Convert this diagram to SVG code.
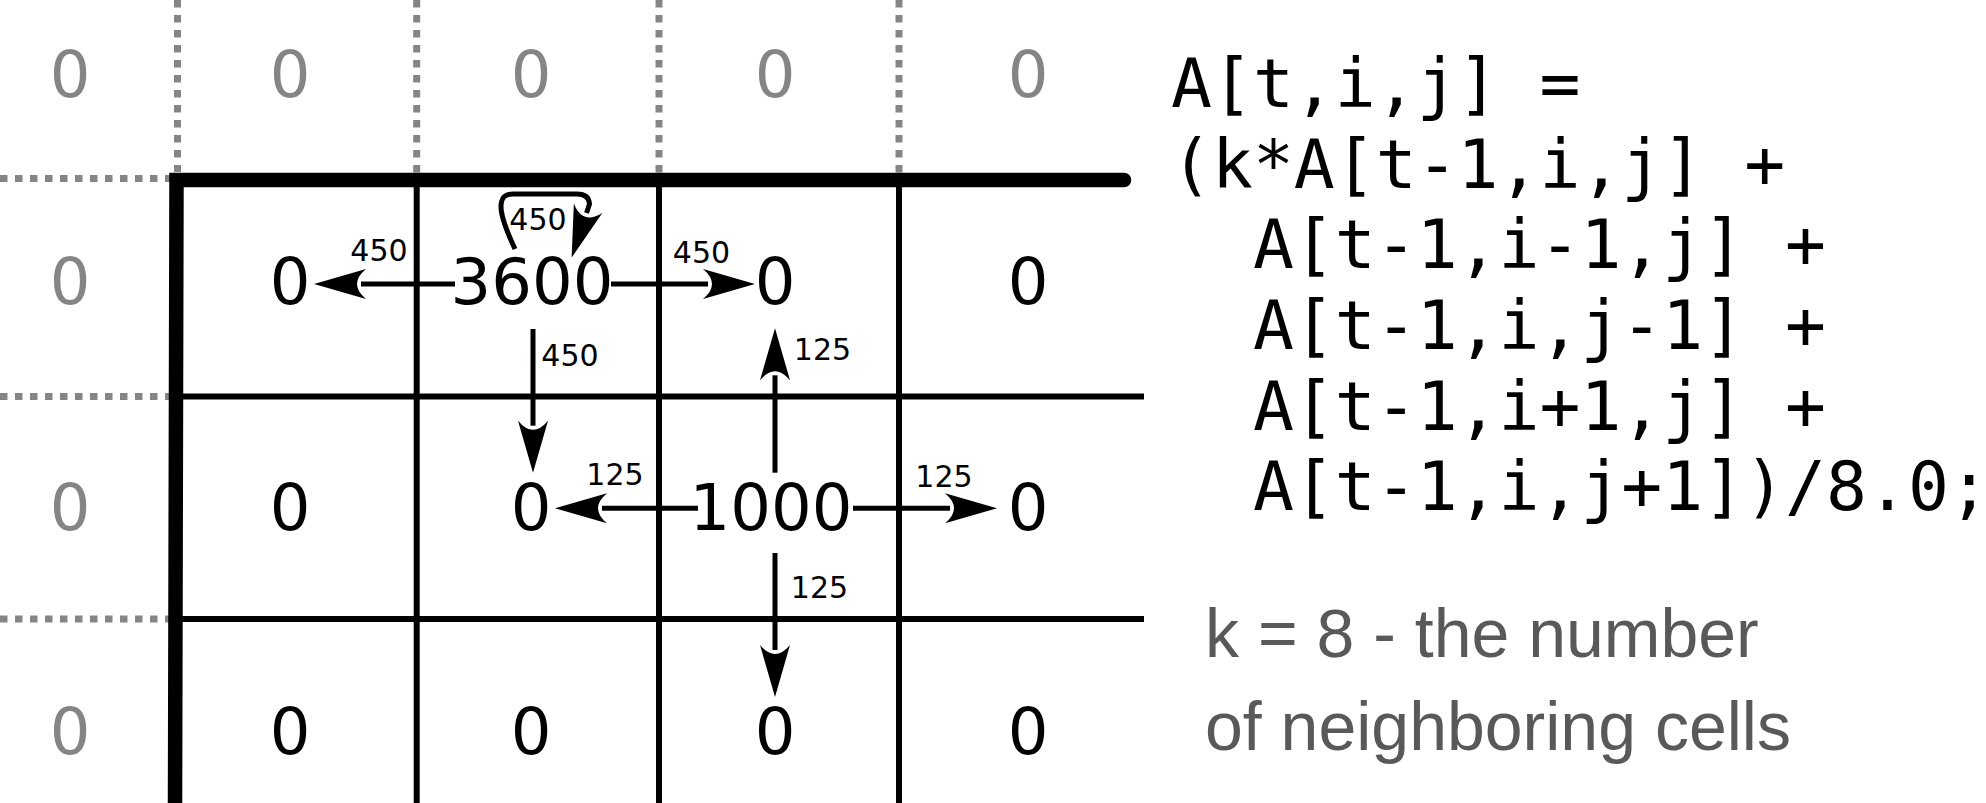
<svg xmlns="http://www.w3.org/2000/svg" width="1986" height="803" viewBox="0 0 1986 803">
<style>
.bg{fill:#ffffff}
.dot{stroke:#858585;stroke-width:7;stroke-dasharray:7.5 7.5;fill:none}
.grid{stroke:#000000;stroke-width:6;fill:none}
.thick{stroke:#000000;stroke-width:14.5;fill:none;stroke-linejoin:miter;stroke-linecap:round}
.num{font-family:"DejaVu Sans","Bitstream Vera Sans",sans-serif;font-size:64px;text-anchor:middle;fill:#000000}
.ghost{fill:#858585}
.lbl{font-family:"DejaVu Sans","Bitstream Vera Sans",sans-serif;font-size:30px;text-anchor:middle;fill:#000000}
.arr{stroke:#000000;stroke-width:5;fill:none;marker-end:url(#ah)}
.code{font-family:"DejaVu Sans Mono","Liberation Mono",monospace;font-size:68px;fill:#000000}
.note{font-family:"Liberation Sans",Arial,sans-serif;font-size:68px;fill:#595959}
</style>
<defs>
<marker id="ah" markerUnits="userSpaceOnUse" orient="auto" refX="0" refY="0" markerWidth="120" markerHeight="120" viewBox="-60 -60 120 120" overflow="visible">
<path d="M47,0 L-5,-15 Q13,0 -5,15 Z" fill="#000000"/>
</marker>
</defs>
<rect class="bg" x="0" y="0" width="1986" height="803"/>
<g id="grid-lines">
<path class="dot" d="M177.5,0 V172 M416.7,0 V176 M659,0 V176 M899,0 V176"/>
<path class="dot" d="M0,178.5 H170 M0,396.5 H172 M0,619 H172"/>
<path class="grid" d="M416.7,180 V803 M659,180 V803 M899,180 V803"/>
<path class="grid" d="M176,396.5 H1144 M175.5,619 H1144"/>
<path class="thick" d="M175,810 L176.5,180 L1124,180"/>
</g>
<g id="cell-0-0"><text class="num ghost" x="70" y="97">0</text></g>
<g id="cell-0-1"><text class="num ghost" x="290" y="97">0</text></g>
<g id="cell-0-2"><text class="num ghost" x="531" y="97">0</text></g>
<g id="cell-0-3"><text class="num ghost" x="775" y="97">0</text></g>
<g id="cell-0-4"><text class="num ghost" x="1028" y="97">0</text></g>
<g id="cell-1-0"><text class="num ghost" x="70" y="304">0</text></g>
<g id="cell-1-1"><text class="num" x="290" y="304">0</text></g>
<g id="cell-1-2"><text class="num" x="532" y="304">3600</text></g>
<g id="cell-1-3"><text class="num" x="775" y="304">0</text></g>
<g id="cell-1-4"><text class="num" x="1028" y="304">0</text></g>
<g id="cell-2-0"><text class="num ghost" x="70" y="530">0</text></g>
<g id="cell-2-1"><text class="num" x="290" y="530">0</text></g>
<g id="cell-2-2"><text class="num" x="531" y="530">0</text></g>
<g id="cell-2-3"><text class="num" x="771" y="530">1000</text></g>
<g id="cell-2-4"><text class="num" x="1028" y="530">0</text></g>
<g id="cell-3-0"><text class="num ghost" x="70" y="754">0</text></g>
<g id="cell-3-1"><text class="num" x="290" y="754">0</text></g>
<g id="cell-3-2"><text class="num" x="531" y="754">0</text></g>
<g id="cell-3-3"><text class="num" x="775" y="754">0</text></g>
<g id="cell-3-4"><text class="num" x="1028" y="754">0</text></g>
<g id="connectors">
<path class="arr" d="M455,284 H361"/>
<path class="arr" d="M611,284 H708"/>
<path class="arr" d="M533,329 V425.7"/>
<path class="arr" d="M515,249 C508,234 501,218 501,207 C501,197 505,194 513,194 L577,194 C585,194 589,197 589.5,204 L586.5,213"/>
<path class="arr" d="M775,472.7 V375.3"/>
<path class="arr" d="M698,508.3 H602"/>
<path class="arr" d="M853,508.3 H950"/>
<path class="arr" d="M775,553 V650"/>
<text class="lbl" x="379" y="261">450</text>
<text class="lbl" x="538" y="230">450</text>
<text class="lbl" x="701.5" y="263">450</text>
<text class="lbl" x="570" y="366">450</text>
<text class="lbl" x="822.5" y="360">125</text>
<text class="lbl" x="615" y="485">125</text>
<text class="lbl" x="944" y="487">125</text>
<text class="lbl" x="819.5" y="598">125</text>
</g>
<g id="formula">
<text class="code" x="1171" y="107">A[t,i,j] =</text>
<text class="code" x="1171" y="188">(k*A[t-1,i,j] +</text>
<text class="code" x="1252.9" y="268">A[t-1,i-1,j] +</text>
<text class="code" x="1252.9" y="349">A[t-1,i,j-1] +</text>
<text class="code" x="1252.9" y="430">A[t-1,i+1,j] +</text>
<text class="code" x="1252.9" y="510">A[t-1,i,j+1])/8.0;</text>
</g>
<g id="note">
<text class="note" x="1205" y="657">k = 8 - the number</text>
<text class="note" x="1205" y="750">of neighboring cells</text>
</g>
</svg>
